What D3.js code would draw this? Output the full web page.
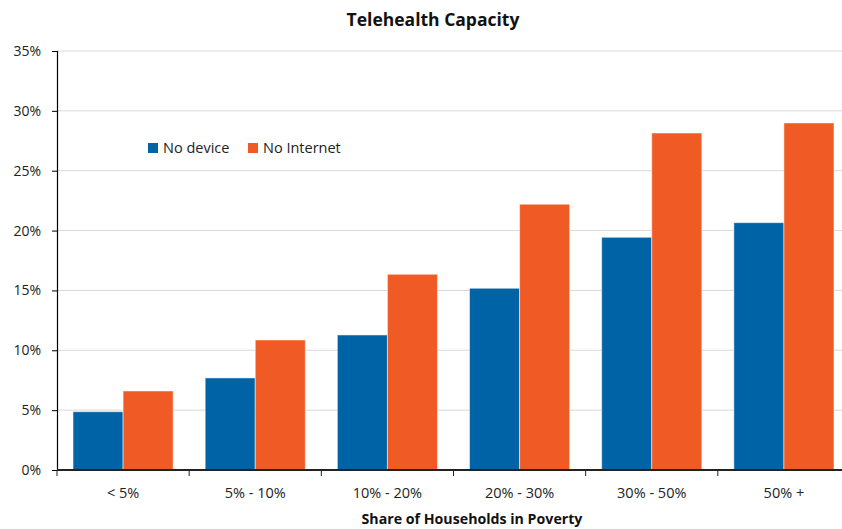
<!DOCTYPE html>
<html><head><meta charset="utf-8">
<script src="https://cdn.jsdelivr.net/npm/d3@7"></script>
<style>body{margin:0;background:#fff;} svg{display:block;font-family:"Open Sans",sans-serif;}</style>
</head><body><svg id="c" width="842" height="529"></svg>
<script>
const categories = ["< 5%", "5% - 10%", "10% - 20%", "20% - 30%", "30% - 50%", "50% +"];
const seriesNames = ["No device", "No Internet"];
const noDevice = [4.87, 7.69, 11.28, 15.18, 19.44, 20.66];
const noInternet = [6.6, 10.86, 16.35, 22.2, 28.15, 28.99];
const yTicks = [0, 5, 10, 15, 20, 25, 30, 35];
const colors = ["#0063A6", "#F05A24"];

const svg = d3.select("#c");
const pLeft = 57, pRight = 850, pTop = 51, pBottom = 470;
const x0 = d3.scaleBand().domain(categories).range([pLeft, pRight]).padding(0);
const x1 = d3.scaleBand().domain(seriesNames).range([0, x0.bandwidth()]).paddingInner(0).paddingOuter(0.32);
const y = d3.scaleLinear().domain([0, 35]).range([pBottom, pTop]);

// grid
svg.append("g").selectAll("line").data(yTicks.filter(d => d > 0)).join("line")
  .attr("x1", pLeft).attr("x2", pRight).attr("y1", d => y(d)).attr("y2", d => y(d))
  .attr("stroke", "#d9d9d9").attr("stroke-width", 1);

// bars
const data = categories.map((c, i) => ({c, vals: [noDevice[i], noInternet[i]]}));
const g = svg.append("g").selectAll("g").data(data).join("g")
  .attr("transform", d => `translate(${x0(d.c)},0)`);
g.selectAll("rect").data(d => d.vals.map((v, k) => ({k, v}))).join("rect")
  .attr("x", d => x1(seriesNames[d.k])).attr("width", x1.bandwidth())
  .attr("y", d => y(d.v)).attr("height", d => y(0) - y(d.v))
  .attr("fill", d => colors[d.k]).attr("stroke", "#ffffff").attr("stroke-opacity", 0.5).attr("stroke-width", 1);

// y axis
const ya = svg.append("g").attr("transform", `translate(${pLeft},0)`)
  .call(d3.axisLeft(y).tickValues(yTicks).tickFormat(d => d + "%").tickSize(5).tickPadding(11));
ya.select(".domain").attr("stroke", "#000").attr("stroke-width", 1.2);
ya.selectAll(".tick line").attr("stroke", "#000");
ya.selectAll("text").attr("font-size", 14).attr("fill", "#222").attr("font-family", "Open Sans");

// x axis
const xa = svg.append("g").attr("transform", `translate(0,${pBottom})`);
xa.append("line").attr("x1", pLeft).attr("x2", pRight).attr("stroke", "#222").attr("stroke-width", 2);
const bounds = categories.map(c => x0(c)).concat([pRight]);
xa.selectAll("line.t").data(bounds).join("line").attr("class", "t")
  .attr("x1", d => d).attr("x2", d => d).attr("y1", 0).attr("y2", 6).attr("stroke", "#222");
xa.selectAll("text").data(categories).join("text")
  .attr("x", d => x0(d) + x0.bandwidth() / 2).attr("y", 28)
  .attr("text-anchor", "middle").attr("font-size", 14.5).attr("fill", "#222").text(d => d);

// titles
svg.append("text").attr("x", 433).attr("y", 26).attr("text-anchor", "middle")
  .attr("font-size", 17.5).attr("font-weight", "bold").attr("fill", "#111").text("Telehealth Capacity");
svg.append("text").attr("x", 472).attr("y", 524).attr("text-anchor", "middle")
  .attr("font-size", 14.2).attr("font-weight", "bold").attr("fill", "#111").text("Share of Households in Poverty");

// legend
const lg = svg.append("g");
const lx = [148, 248];
seriesNames.forEach((s, i) => {
  lg.append("rect").attr("x", lx[i]).attr("y", 143).attr("width", 10).attr("height", 10).attr("fill", colors[i]);
  lg.append("text").attr("x", lx[i] + 15).attr("y", 153).attr("font-size", 14.5).attr("fill", "#222").text(s);
});
</script></body></html>
